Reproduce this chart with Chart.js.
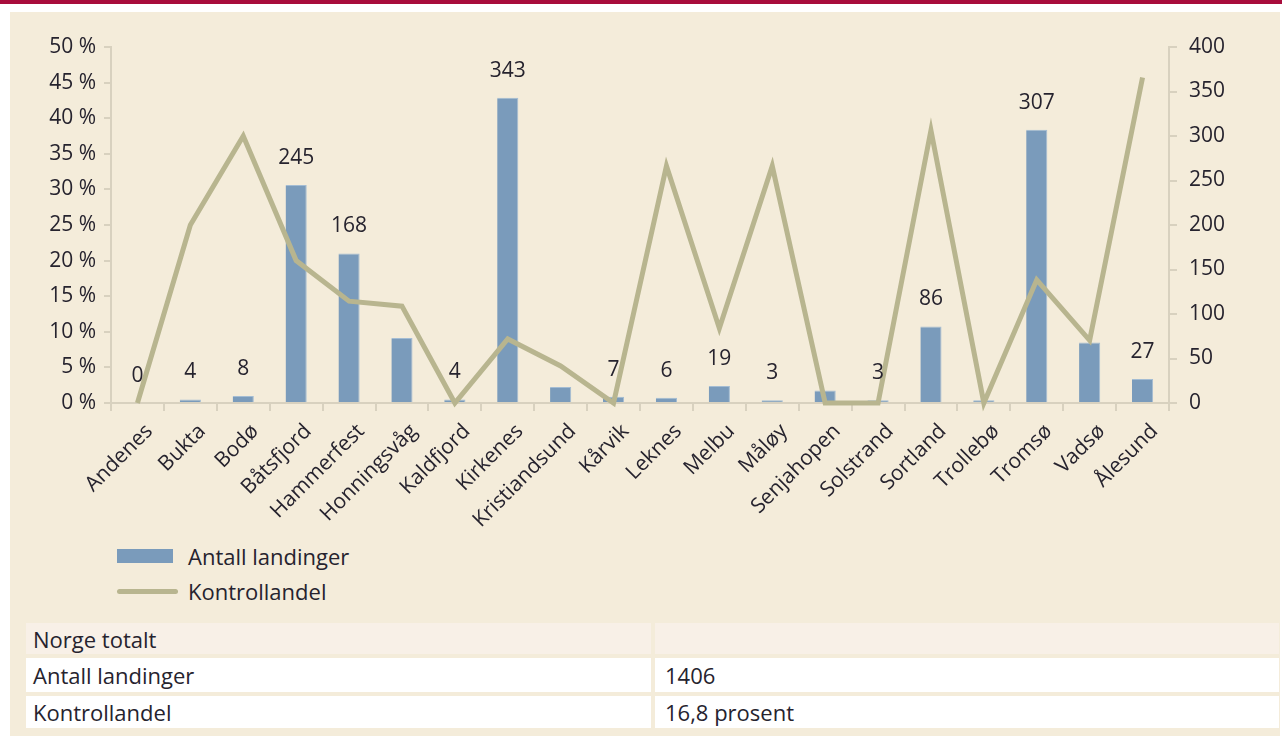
<!DOCTYPE html>
<html>
<head>
<meta charset="utf-8">
<script src="https://cdn.jsdelivr.net/npm/chart.js@4.4.1/dist/chart.umd.min.js"></script>
<style>
  html, body { margin: 0; padding: 0; width: 1282px; height: 736px; background: #ffffff; overflow: hidden; font-family: "Open Sans", "Noto Sans", sans-serif; color: #26232e; }
  #topbar { position: absolute; left: 0; top: 0; width: 1282px; height: 4px; background: #a80d3c; }
  #panel { position: absolute; left: 10px; top: 12px; width: 1270px; height: 724px; background: #f4ecda; }
  #wrap { position: absolute; left: 0; top: 0; width: 1282px; height: 540px; }
  .leg { position: absolute; left: 117px; font-size: 22px; line-height: 22px; }
  .leg .sw { position: absolute; left: 0; }
  .leg .tx { position: absolute; left: 71px; top: -11px; white-space: nowrap; }
  .row { position: absolute; left: 26px; width: 1253px; }
  .cell { position: absolute; top: 0; height: 100%; font-size: 22px; box-sizing: border-box; padding-left: 7px; display: flex; align-items: center; }
</style>
</head>
<body>
<div id="topbar"></div>
<div id="panel"></div>
<div id="wrap"><canvas id="c" width="1282" height="540"></canvas></div>

<div class="leg" style="top:556px;"><div class="sw" style="top:-7px;width:56px;height:14px;background:#7a9bbb;"></div><div class="tx">Antall landinger</div></div>
<div class="leg" style="top:591px;"><div class="sw" style="top:-2.5px;width:61px;height:5px;border-radius:3px;background:#b8b58f;"></div><div class="tx">Kontrollandel</div></div>

<div class="row" style="top:623px;height:31px;">
  <div class="cell" style="left:0;width:625px;background:#f8f0e7;">Norge totalt</div>
  <div class="cell" style="left:629px;width:624px;background:#f8f0e7;"></div>
</div>
<div class="row" style="top:658px;height:34px;">
  <div class="cell" style="left:0;width:625px;background:#ffffff;">Antall landinger</div>
  <div class="cell" style="left:629px;width:624px;background:#ffffff;padding-left:10px;">1406</div>
</div>
<div class="row" style="top:696px;height:32px;">
  <div class="cell" style="left:0;width:625px;background:#ffffff;">Kontrollandel</div>
  <div class="cell" style="left:629px;width:624px;background:#ffffff;padding-left:10px;">16,8 prosent</div>
</div>

<script>
const categories = ['Andenes','Bukta','Bodø','Båtsfjord','Hammerfest','Honningsvåg','Kaldfjord','Kirkenes','Kristiandsund','Kårvik','Leknes','Melbu','Måløy','Senjahopen','Solstrand','Sortland','Trollebø','Tromsø','Vadsø','Ålesund'];
const antallLandinger = [0,4,8,245,168,73,4,343,18,7,6,19,3,14,3,86,3,307,68,27];
const barLabels = ['0','4','8','245','168','','4','343','','7','6','19','3','','3','86','','307','','27'];
const kontrollandel = [0,25,37.5,20,14.3,13.6,0,9.0,5.2,0,33.3,10.5,33.3,0,0,38.3,0,17.3,8.8,45.7];
const leftTicks = [0,5,10,15,20,25,30,35,40,45,50];
const rightTicks = [0,50,100,150,200,250,300,350,400];

const textColor = '#26232e';
const axisColor = '#d8d1bf';
const fontFamily = '"Open Sans", "Noto Sans", sans-serif';

const barLabelPlugin = {
  id: 'barLabels',
  afterDatasetsDraw(chart) {
    const meta = chart.getDatasetMeta(0);
    const ctx = chart.ctx;
    ctx.save();
    ctx.font = '21px ' + fontFamily;
    ctx.fillStyle = textColor;
    ctx.textAlign = 'center';
    ctx.textBaseline = 'middle';
    meta.data.forEach((bar, i) => {
      const t = barLabels[i];
      if (t) ctx.fillText(t, bar.x, bar.y - 27);
    });
    ctx.restore();
  }
};

new Chart(document.getElementById('c'), {
  type: 'bar',
  data: {
    labels: categories,
    datasets: [
      {
        label: 'Antall landinger',
        data: antallLandinger,
        yAxisID: 'y1',
        backgroundColor: '#7a9bbb',
        borderColor: '#a3bcd3',
        borderWidth: {top: 1, right: 1, left: 0, bottom: 0},
        borderSkipped: false,
        barPercentage: 0.40,
        categoryPercentage: 1.0,
        order: 2
      },
      {
        type: 'line',
        label: 'Kontrollandel',
        data: kontrollandel,
        yAxisID: 'y',
        borderColor: '#b8b58f',
        backgroundColor: '#b8b58f',
        borderWidth: 5,
        pointRadius: 0,
        pointHoverRadius: 0,
        tension: 0,
        clip: false,
        order: 1
      }
    ]
  },
  options: {
    responsive: false,
    animation: false,
    events: [],
    layout: { padding: { left: 0, right: 0, top: 47, bottom: 0 } },
    plugins: { legend: { display: false }, tooltip: { enabled: false } },
    scales: {
      x: {
        offset: true,
        afterFit(scale) { scale.height = 137; },
        grid: { offset: true, drawOnChartArea: false, drawTicks: true, tickLength: 8, color: axisColor, lineWidth: 2 },
        border: { display: true, color: axisColor, width: 2 },
        ticks: { color: textColor, font: { family: fontFamily, size: 21 }, minRotation: 45, maxRotation: 45, autoSkip: false, padding: 8, labelOffset: 12 }
      },
      y: {
        position: 'left',
        min: 0, max: 50,
        afterFit(scale) { scale.width = 111; },
        afterBuildTicks(scale) { scale.ticks = leftTicks.map(v => ({ value: v })); },
        grid: { drawOnChartArea: false, drawTicks: true, tickLength: 7, color: axisColor, lineWidth: 2 },
        border: { display: true, color: axisColor, width: 2 },
        ticks: { color: textColor, font: { family: fontFamily, size: 21 }, padding: 8, callback: v => v + ' %' }
      },
      y1: {
        position: 'right',
        min: 0, max: 400,
        afterFit(scale) { scale.width = 113; },
        afterBuildTicks(scale) { scale.ticks = rightTicks.map(v => ({ value: v })); },
        grid: { drawOnChartArea: false, drawTicks: true, tickLength: 8, color: axisColor, lineWidth: 2 },
        border: { display: true, color: axisColor, width: 2 },
        ticks: { color: textColor, font: { family: fontFamily, size: 21 }, padding: 12 }
      }
    }
  },
  plugins: [barLabelPlugin]
});
</script>
</body>
</html>
